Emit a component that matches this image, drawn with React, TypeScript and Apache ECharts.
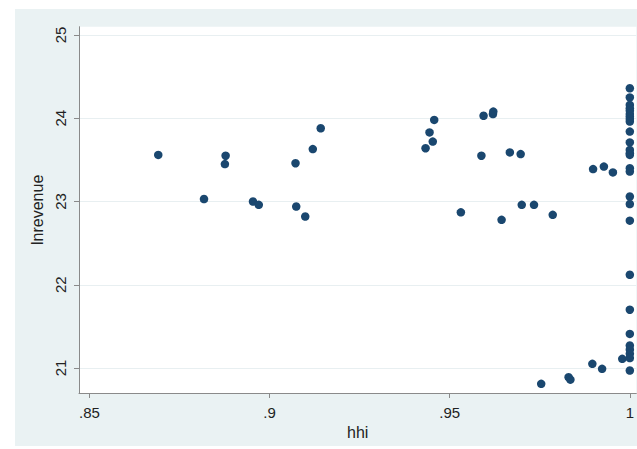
import React, { useEffect, useRef } from "react";
import * as echarts from "echarts";

const hhi: number[] = [
  0.8691, 0.8818, 0.8878, 0.8876, 0.8954, 0.897, 0.9072, 0.9074, 0.9099, 0.912,
  0.9142, 0.9433, 0.9444, 0.9453, 0.9457, 0.9531, 0.9588, 0.9594, 0.962, 0.9621,
  0.9644, 0.9667, 0.9697, 0.97, 0.9734, 0.9754, 0.9786, 0.983, 0.9835, 0.9896,
  0.9898, 0.9923, 0.9928, 0.9953, 0.9979,
  1, 1, 1, 1, 1, 1, 1, 1, 1, 1, 1, 1, 1, 1, 1, 1, 1, 1, 1, 1, 1, 1, 1, 1, 1, 1, 1,
];

const lnrevenue: number[] = [
  23.56, 23.03, 23.55, 23.45, 23.0, 22.96, 23.46, 22.94, 22.82, 23.63,
  23.88, 23.64, 23.83, 23.72, 23.98, 22.87, 23.55, 24.03, 24.05, 24.08,
  22.78, 23.59, 23.57, 22.96, 22.96, 20.81, 22.84, 20.89, 20.86, 21.05,
  23.39, 20.99, 23.42, 23.35, 21.11,
  24.36, 24.25, 24.16, 24.12, 24.09, 24.05, 24.02, 23.99, 23.96, 23.84, 23.71,
  23.62, 23.58, 23.56, 23.4, 23.36, 23.06, 22.97, 22.77, 22.12, 21.7, 21.41,
  21.27, 21.22, 21.17, 21.12, 20.97,
];

const xTickValues: number[] = [0.85, 0.9, 0.95, 1];
const xTickLabels: string[] = [".85", ".9", ".95", "1"];
const yTickValues: number[] = [21, 22, 23, 24, 25];
const yTickLabels: string[] = ["21", "22", "23", "24", "25"];

const xName = "hhi";
const yName = "lnrevenue";

function labelFor(values: number[], labels: string[], v: number): string {
  let best = 0;
  for (let i = 1; i < values.length; i++) {
    if (Math.abs(values[i] - v) < Math.abs(values[best] - v)) best = i;
  }
  return labels[best];
}

export default function App() {
  const ref = useRef<HTMLDivElement>(null);

  useEffect(() => {
    if (!ref.current) return;
    const chart = echarts.init(ref.current, null, { renderer: "svg" });
    const points = hhi.map((x, i) => [x, lnrevenue[i]]);
    const font = "'Liberation Sans', Arial, sans-serif";
    chart.setOption({
      animation: false,
      backgroundColor: "#ffffff",
      graphic: [
        {
          type: "rect",
          z: -100,
          silent: true,
          shape: { x: 15, y: 9, width: 640, height: 437 },
          style: { fill: "#eaf2f3" },
        },
      ],
      grid: {
        left: 79,
        top: 26.7,
        width: 558,
        height: 366.3,
        show: true,
        backgroundColor: "#ffffff",
        borderWidth: 0,
        containLabel: false,
      },
      xAxis: {
        type: "value",
        min: 0.8471,
        max: 1.0018,
        name: xName,
        nameLocation: "middle",
        nameGap: 20,
        nameTextStyle: { fontFamily: font, fontSize: 16, color: "#222" },
        axisLine: { show: true, onZero: false, lineStyle: { color: "#8a8a8a", width: 1 } },
        axisTick: { show: true, length: 5, customValues: xTickValues, lineStyle: { color: "#8a8a8a" } },
        axisLabel: {
          customValues: xTickValues,
          margin: 12,
          fontFamily: font,
          fontSize: 15,
          color: "#222",
          formatter: (v: number) => labelFor(xTickValues, xTickLabels, v),
        },
        splitLine: { show: false },
      },
      yAxis: {
        type: "value",
        min: 20.7,
        max: 25.1,
        name: yName,
        nameLocation: "middle",
        nameRotate: 90,
        nameGap: 23,
        nameTextStyle: { fontFamily: font, fontSize: 16, color: "#222" },
        axisLine: { show: true, onZero: false, lineStyle: { color: "#8a8a8a", width: 1 } },
        axisTick: { show: true, length: 5, customValues: yTickValues, lineStyle: { color: "#8a8a8a" } },
        axisLabel: {
          customValues: yTickValues,
          rotate: 90,
          margin: 11,
          fontFamily: font,
          fontSize: 15,
          color: "#222",
          formatter: (v: number) => labelFor(yTickValues, yTickLabels, v),
        },
        splitLine: { show: true, lineStyle: { color: "#e8eff1", width: 1.2 } },
      },
      series: [
        {
          type: "scatter",
          data: points,
          symbol: "circle",
          symbolSize: 8.5,
          clip: false,
          itemStyle: { color: "#1a476f", opacity: 1 },
        },
      ],
    });
    return () => chart.dispose();
  }, []);

  return (
    <div
      ref={ref}
      style={{ position: "fixed", left: 0, top: 0, width: 637, height: 449 }}
    />
  );
}
